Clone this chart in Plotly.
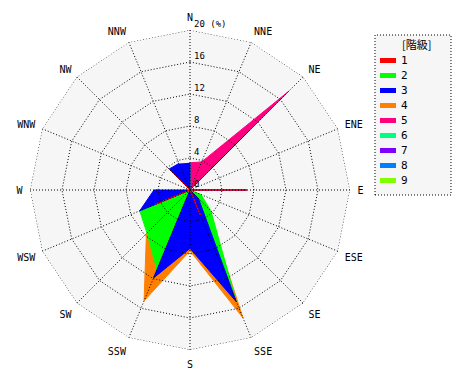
import plotly.graph_objects as go

# 16 compass directions, clockwise from north
directions = ["N", "NNE", "NE", "ENE", "E", "ESE", "SE", "SSE",
              "S", "SSW", "SW", "WSW", "W", "WNW", "NW", "NNW"]

# frequency (%) for each class, per direction (polygon radius of each class)
class_1 = [0, 0, 3.5, 0, 7.1, 0, 0, 3.4, 0, 0, 0, 4.7, 0, 0, 3.7, 0]
class_2 = [3.4, 0, 5.8, 0, 0, 1.5, 3.7, 15.1, 0, 10.8, 7.6, 6.8, 0, 0, 0, 0]
class_3 = [3.4, 0, 10.6, 0, 7.1, 0, 1.5, 15.1, 7.3, 11.9, 0, 6.8, 4.5, 0, 3.7, 3.6]
class_4 = [0, 0, 0, 0, 0, 0, 3.0, 17.3, 7.6, 15.0, 7.7, 0, 0, 0, 0, 0]
class_5 = [3.4, 3.8, 17.5, 0, 0, 0, 0, 0, 0, 0, 0, 0, 0, 0, 0, 0]
class_6 = [0] * 16
class_7 = [0] * 16
class_8 = [0] * 16
class_9 = [0] * 16

class_names = ["1", "2", "3", "4", "5", "6", "7", "8", "9"]
class_values = [class_1, class_2, class_3, class_4, class_5,
                class_6, class_7, class_8, class_9]
class_colors = ["#ff0000", "#00ff00", "#0000ff", "#ff8000", "#ff0080",
                "#00ff80", "#8000ff", "#0080ff", "#80ff00"]

radial_max = 20
radial_ticks = [0, 4, 8, 12, 16, 20]
radial_ticktext = ["0", "4", "8", "12", "16", "20 (%)"]
legend_title = "[階級]"

# painting order (back to front)
draw_order = [8, 7, 6, 5, 4, 3, 1, 2, 0]

dot = "1px,2px"
font_mono = "DejaVu Sans Mono"

fig = go.Figure()
# plot-area background polygon
fig.add_trace(go.Scatterpolar(
    r=[radial_max] * len(directions), theta=directions, mode="lines",
    fill="toself", fillcolor="#f6f6f6", line=dict(width=0),
    showlegend=False, hoverinfo="skip",
))
for i in draw_order:
    fig.add_trace(go.Scatterpolar(
        r=class_values[i], theta=directions, name=class_names[i],
        mode="lines", fill="toself", fillcolor=class_colors[i],
        line=dict(color=class_colors[i], width=1),
        showlegend=False, hoverinfo="skip",
    ))

# dotted grid drawn above the data
for t in radial_ticks[1:]:
    fig.add_trace(go.Scatterpolar(
        r=[t] * (len(directions) + 1), theta=directions + directions[:1],
        mode="lines", line=dict(color="black", width=1, dash=dot),
        showlegend=False, hoverinfo="skip",
    ))
spoke_r, spoke_t = [], []
for d in directions:
    spoke_r += [0, radial_max, None]
    spoke_t += [d, d, None]
fig.add_trace(go.Scatterpolar(
    r=spoke_r, theta=spoke_t, mode="lines", connectgaps=False,
    line=dict(color="black", width=1, dash=dot),
    showlegend=False, hoverinfo="skip",
))
# radial tick labels along the north spoke (on an overlay subplot nudged right)
fig.add_trace(go.Scatterpolar(
    r=radial_ticks, theta=["N"] * len(radial_ticks), text=radial_ticktext,
    mode="text", textposition="top right", subplot="polar2",
    textfont=dict(family=font_mono, size=9, color="black"),
    showlegend=False, hoverinfo="skip",
))

# page body has an 8px margin; work in reference-window pixel coordinates
OFF = 8
W, H = 470 - OFF, 380 - OFF
def px(x): return (x - OFF) / W
def py(y): return 1 - (y - OFF) / H

fig.update_layout(
    width=W, height=H, margin=dict(l=0, r=0, t=0, b=0),
    paper_bgcolor="white", showlegend=False,
    polar=dict(
        domain=dict(x=[px(30), px(350)], y=[py(350), py(30)]),
        bgcolor="rgba(0,0,0,0)", gridshape="linear",
        angularaxis=dict(
            type="category", categoryarray=directions, rotation=90,
            direction="clockwise", showline=False, showgrid=False,
            ticks="outside", ticklen=5, tickcolor="rgba(0,0,0,0)",
            tickfont=dict(family=font_mono, size=10, color="black"),
        ),
        radialaxis=dict(
            range=[0, radial_max], angle=90, showline=False, showgrid=False,
            showticklabels=False, ticks="",
        ),
    ),
    polar2=dict(
        domain=dict(x=[px(34), px(354)], y=[py(349), py(29)]),
        bgcolor="rgba(0,0,0,0)",
        angularaxis=dict(type="category", categoryarray=directions, rotation=90,
                         direction="clockwise", visible=False),
        radialaxis=dict(range=[0, radial_max], visible=False),
    ),
)

# legend box
shapes = [dict(type="rect", xref="paper", yref="paper",
               x0=px(375), x1=px(451), y0=py(195), y1=py(35),
               line=dict(color="black", width=1, dash=dot),
               fillcolor="#f6f6f6", layer="below")]
annotations = [dict(text=legend_title, x=px(416), y=py(44), xref="paper", yref="paper",
                    showarrow=False, xanchor="center", yanchor="middle",
                    font=dict(family="Noto Sans CJK JP", size=11, color="black"))]
for k, (name, col) in enumerate(zip(class_names, class_colors)):
    yk = 60.5 + 15 * k
    shapes.append(dict(type="line", xref="paper", yref="paper",
                       x0=px(380), x1=px(396), y0=py(yk), y1=py(yk),
                       line=dict(color=col, width=5)))
    annotations.append(dict(text=name, x=px(399), y=py(yk), xref="paper", yref="paper",
                            showarrow=False, xanchor="left", yanchor="middle",
                            font=dict(family=font_mono, size=11, color="black")))
fig.update_layout(shapes=shapes, annotations=annotations)

fig.write_html("out.html")
